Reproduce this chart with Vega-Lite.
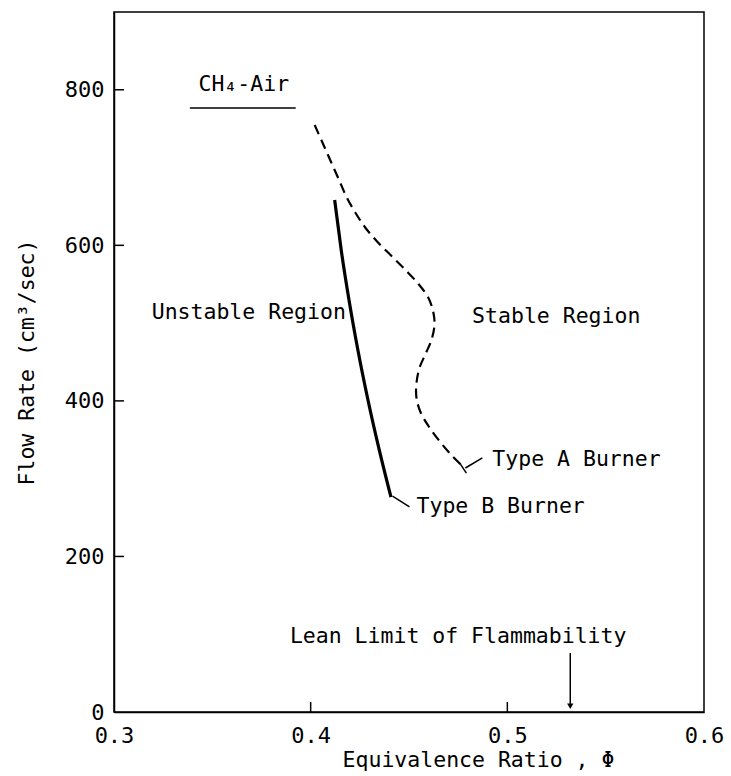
{
  "$schema": "https://vega.github.io/schema/vega-lite/v6.json",
  "width": 590,
  "height": 700,
  "autosize": {"type": "none"},
  "padding": {"left": 114, "top": 12, "right": 27, "bottom": 64},
  "background": "white",
  "config": {
    "view": {"stroke": "black", "strokeWidth": 1.5},
    "font": "DejaVu Sans Mono",
    "axis": {
      "grid": false,
      "domainColor": "black",
      "domainWidth": 1.5,
      "tickColor": "black",
      "tickWidth": 1.5,
      "labelColor": "black",
      "titleColor": "black",
      "labelFont": "DejaVu Sans Mono",
      "titleFont": "DejaVu Sans Mono",
      "labelFontSize": 22,
      "titleFontSize": 21.5,
      "titleFontWeight": "normal",
      "labelFlush": false
    }
  },
  "datasets": {
    "typeA": [
      {"i": 1, "phi": 0.40203, "q": 754.7},
      {"i": 2, "phi": 0.40609, "q": 731.6},
      {"i": 3, "phi": 0.41015, "q": 708.4},
      {"i": 4, "phi": 0.41421, "q": 685.3},
      {"i": 5, "phi": 0.41827, "q": 662.1},
      {"i": 6, "phi": 0.42284, "q": 641.6},
      {"i": 7, "phi": 0.42792, "q": 622.3},
      {"i": 8, "phi": 0.43401, "q": 604.3},
      {"i": 9, "phi": 0.44112, "q": 586.3},
      {"i": 10, "phi": 0.44822, "q": 568.3},
      {"i": 11, "phi": 0.45482, "q": 550.3},
      {"i": 12, "phi": 0.4599, "q": 532.3},
      {"i": 13, "phi": 0.46244, "q": 513.0},
      {"i": 14, "phi": 0.46294, "q": 497.6},
      {"i": 15, "phi": 0.46142, "q": 478.3},
      {"i": 16, "phi": 0.45838, "q": 460.3},
      {"i": 17, "phi": 0.45533, "q": 442.3},
      {"i": 18, "phi": 0.45381, "q": 423.0},
      {"i": 19, "phi": 0.45381, "q": 403.7},
      {"i": 20, "phi": 0.45584, "q": 385.7},
      {"i": 21, "phi": 0.4599, "q": 367.7},
      {"i": 22, "phi": 0.46548, "q": 348.4},
      {"i": 23, "phi": 0.47157, "q": 330.4},
      {"i": 24, "phi": 0.47817, "q": 313.7}
    ],
    "typeB": [
      {"i": 1, "phi": 0.4122, "q": 658.3},
      {"i": 2, "phi": 0.41553, "q": 594.0},
      {"i": 3, "phi": 0.41949, "q": 529.7},
      {"i": 4, "phi": 0.42401, "q": 465.4},
      {"i": 5, "phi": 0.42914, "q": 401.1},
      {"i": 6, "phi": 0.43487, "q": 336.9},
      {"i": 7, "phi": 0.44081, "q": 276.4}
    ],
    "segs": [
      {"name": "underline", "x": 0.33858, "x2": 0.39239, "y": 776.6, "y2": 776.6},
      {"name": "leaderA", "x": 0.47868, "x2": 0.48731, "y": 313.7, "y2": 326.6},
      {"name": "tickA", "x": 0.47614, "x2": 0.47919, "y": 318.6, "y2": 307.1},
      {"name": "leaderB", "x": 0.44162, "x2": 0.45025, "y": 277.7, "y2": 263.6},
      {"name": "arrow", "x": 0.532, "x2": 0.532, "y": 75.9, "y2": 8}
    ],
    "labelsCenter": [
      {"text": "CH₄-Air", "phi": 0.36599, "q": 806},
      {"text": "Unstable Region", "phi": 0.36853, "q": 513},
      {"text": "Stable Region", "phi": 0.52487, "q": 507.8},
      {"text": "Lean Limit of Flammability", "phi": 0.475, "q": 96}
    ],
    "labelsLeft": [
      {"text": "Type A Burner", "phi": 0.49239, "q": 324},
      {"text": "Type B Burner", "phi": 0.45381, "q": 263.6}
    ],
    "arrowhead": [
      {"phi": 0.532, "q": 7.5}
    ],
    "yticks": [{"q": 200}, {"q": 400}, {"q": 600}, {"q": 800}],
    "xticks": [{"phi": 0.4}, {"phi": 0.5}]
  },
  "layer": [
    {
      "data": {"name": "typeA"},
      "mark": {"type": "line", "color": "black", "strokeWidth": 2.2, "strokeDash": [10, 6], "interpolate": "catmull-rom"},
      "encoding": {
        "x": {"field": "phi", "type": "quantitative", "scale": {"domain": [0.3, 0.6]},
              "axis": {"orient": "bottom", "values": [0.3, 0.4, 0.5, 0.6], "format": ".1f", "title": "Equivalence Ratio , Φ",
                       "tickSize": 0, "labelPadding": 13, "titlePadding": 3, "titleX": 364, "titleAlign": "center", "titleAnchor": null}},
        "y": {"field": "q", "type": "quantitative", "scale": {"domain": [0, 900]},
              "axis": {"orient": "left", "values": [0, 200, 400, 600, 800], "title": "Flow Rate (cm³/sec)",
                       "tickSize": 0, "labelPadding": 10, "titlePadding": 26}},
        "order": {"field": "i"}
      }
    },
    {
      "data": {"name": "typeB"},
      "mark": {"type": "line", "color": "black", "strokeWidth": 3.2, "interpolate": "monotone"},
      "encoding": {
        "x": {"field": "phi", "type": "quantitative"},
        "y": {"field": "q", "type": "quantitative"},
        "order": {"field": "i"}
      }
    },
    {
      "data": {"name": "yticks"},
      "mark": {"type": "tick", "orient": "horizontal", "color": "black", "size": 10, "thickness": 1.5, "xOffset": 5, "opacity": 1},
      "encoding": {
        "x": {"datum": 0.3, "type": "quantitative"},
        "y": {"field": "q", "type": "quantitative"}
      }
    },
    {
      "data": {"name": "xticks"},
      "mark": {"type": "tick", "orient": "vertical", "color": "black", "size": 10, "thickness": 1.5, "yOffset": -5, "opacity": 1},
      "encoding": {
        "x": {"field": "phi", "type": "quantitative"},
        "y": {"datum": 0, "type": "quantitative"}
      }
    },
    {
      "data": {"name": "segs"},
      "mark": {"type": "rule", "color": "black", "strokeWidth": 1.5},
      "encoding": {
        "x": {"field": "x", "type": "quantitative"},
        "x2": {"field": "x2"},
        "y": {"field": "y", "type": "quantitative"},
        "y2": {"field": "y2"}
      }
    },
    {
      "data": {"name": "arrowhead"},
      "mark": {"type": "point", "shape": "triangle-down", "filled": true, "color": "black", "size": 40, "opacity": 1},
      "encoding": {
        "x": {"field": "phi", "type": "quantitative"},
        "y": {"field": "q", "type": "quantitative"}
      }
    },
    {
      "data": {"name": "labelsCenter"},
      "mark": {"type": "text", "color": "black", "fontSize": 21.5, "baseline": "middle", "align": "center", "font": "DejaVu Sans Mono"},
      "encoding": {
        "x": {"field": "phi", "type": "quantitative"},
        "y": {"field": "q", "type": "quantitative"},
        "text": {"field": "text"}
      }
    },
    {
      "data": {"name": "labelsLeft"},
      "mark": {"type": "text", "color": "black", "fontSize": 21.5, "baseline": "middle", "align": "left", "font": "DejaVu Sans Mono"},
      "encoding": {
        "x": {"field": "phi", "type": "quantitative"},
        "y": {"field": "q", "type": "quantitative"},
        "text": {"field": "text"}
      }
    }
  ]
}
